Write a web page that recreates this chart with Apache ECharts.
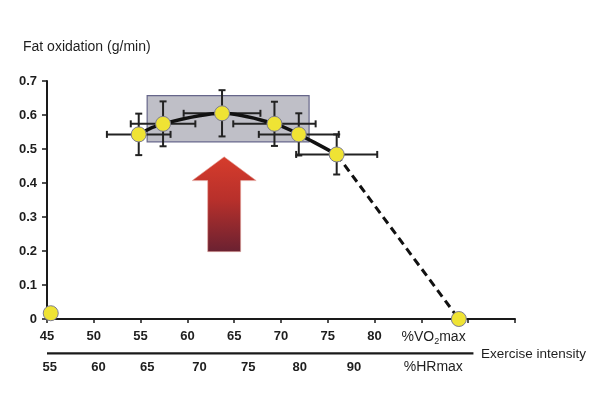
<!DOCTYPE html>
<html><head><meta charset="utf-8">
<script src="https://cdn.jsdelivr.net/npm/echarts@6/dist/echarts.min.js"></script>
<style>html,body{margin:0;padding:0;background:#fff}#c{width:604px;height:395px}</style>
</head><body><div id="c"></div>
<script>
// ---- data ----
const vo2 = [54.8, 57.4, 63.7, 69.3, 71.9, 75.95];
const fat = [0.543, 0.574, 0.605, 0.574, 0.543, 0.484];
const vo2Err = [3.4, 3.45, 4.1, 4.4, 4.27, 4.33];
const fatErr = [0.061, 0.066, 0.068, 0.065, 0.062, 0.059];
const restPoint = [45.4, 0.017];
const endPoint = [89.0, 0];
const vo2TickLabels = ['45', '50', '55', '60', '65', '70', '75', '80'];
const hrLabels = ['55', '60', '65', '70', '75', '80', '90'];
const hrLabelPos = [45.3, 50.5, 55.7, 61.3, 66.5, 72.0, 77.8];
const fatMaxZone = [55.7, 0.657, 73.0, 0.521];

// ---- chart ----
const FONT = '"Liberation Sans", Arial, sans-serif';
const TXT = '#1e1e1e';
const chart = echarts.init(document.getElementById('c'), null, {renderer: 'canvas'});

const curveData = vo2.map((v, i) => [v, fat[i]]);
const errData = vo2.map((v, i) => [v, fat[i], vo2Err[i], fatErr[i]]);
const dashData = [curveData[curveData.length - 1], endPoint];
const pointData = [restPoint].concat(curveData, [endPoint]);

function errRender(params, api) {
  const x = api.value(0), y = api.value(1), ex = api.value(2), ey = api.value(3);
  const c = api.coord([x, y]);
  const l = api.coord([x - ex, y]), r = api.coord([x + ex, y]);
  const t = api.coord([x, y + ey]), b = api.coord([x, y - ey]);
  const cap = 3.5;
  const st = {stroke: '#222', lineWidth: 2};
  const ln = (x1, y1, x2, y2) => ({type: 'line', shape: {x1, y1, x2, y2}, style: st});
  return {type: 'group', children: [
    ln(l[0], c[1], r[0], c[1]),
    ln(l[0], c[1] - cap, l[0], c[1] + cap),
    ln(r[0], c[1] - cap, r[0], c[1] + cap),
    ln(c[0], t[1], c[0], b[1]),
    ln(c[0] - cap, t[1], c[0] + cap, t[1]),
    ln(c[0] - cap, b[1], c[0] + cap, b[1])
  ]};
}

// smooth curve through the measured points (Catmull-Rom rendered as cubic Beziers)
function curveRender(params, api) {
  const p = curveData.map(d => api.coord(d));
  let d = 'M' + p[0][0] + ' ' + p[0][1];
  for (let i = 0; i < p.length - 1; i++) {
    const p0 = p[Math.max(i - 1, 0)], p1 = p[i], p2 = p[i + 1], p3 = p[Math.min(i + 2, p.length - 1)];
    const c1 = [p1[0] + (p2[0] - p0[0]) / 6, p1[1] + (p2[1] - p0[1]) / 6];
    const c2 = [p2[0] - (p3[0] - p1[0]) / 6, p2[1] - (p3[1] - p1[1]) / 6];
    d += ' C' + c1[0] + ' ' + c1[1] + ' ' + c2[0] + ' ' + c2[1] + ' ' + p2[0] + ' ' + p2[1];
  }
  return {type: 'path', shape: {pathData: d}, style: {fill: null, stroke: '#111', lineWidth: 3.5, lineCap: 'round'}};
}

function zoneRender(params, api) {
  const p1 = api.coord([api.value(0), api.value(1)]);
  const p2 = api.coord([api.value(2), api.value(3)]);
  return {type: 'rect', shape: {x: p1[0], y: p1[1], width: p2[0] - p1[0], height: p2[1] - p1[1]},
    style: {fill: '#bfbfc7', stroke: '#66668a', lineWidth: 1.2}};
}

function arrowRender(params, api) {
  const tip = api.coord([63.93, 0.477]);
  const headBase = api.coord([63.93, 0.407])[1];
  const bottom = api.coord([63.93, 0.198])[1];
  const hw = 32, sw = 16.5;
  const cx = tip[0];
  return {type: 'polygon', shape: {points: [
      [cx, tip[1]], [cx + hw, headBase], [cx + sw, headBase], [cx + sw, bottom],
      [cx - sw, bottom], [cx - sw, headBase], [cx - hw, headBase]]},
    style: {fill: new echarts.graphic.LinearGradient(0, 0, 0, 1, [
      {offset: 0, color: '#d63c2c'}, {offset: 0.45, color: '#b8302b'}, {offset: 1, color: '#6a2131'}]),
      stroke: '#e8b0a8', lineWidth: 0.6}};
}

function decorRender(params, api) {
  const a = api.coord([45, -0.101]);
  const b = api.coord([90.56, -0.101]);
  const children = [
    {type: 'line', shape: {x1: a[0], y1: a[1], x2: b[0], y2: b[1]}, style: {stroke: '#1a1a1a', lineWidth: 2.2}}
  ];
  hrLabels.forEach((lab, i) => {
    const p = api.coord([hrLabelPos[i], -0.142]);
    children.push({type: 'text', x: p[0], y: p[1], style: {text: lab, font: 'bold 13px ' + FONT,
      fill: TXT, align: 'center', verticalAlign: 'middle'}});
  });
  const v = api.coord([86.3, -0.053]);
  children.push({type: 'text', x: v[0], y: v[1], style: {
    text: '%VO{s|2}max', font: '14px ' + FONT, fill: TXT, align: 'center', verticalAlign: 'middle',
    rich: {s: {fontSize: 9, fontFamily: FONT, fill: TXT, padding: [8, 0, 0, 0]}}}});
  const h = api.coord([86.27, -0.142]);
  children.push({type: 'text', x: h[0], y: h[1], style: {text: '%HRmax', font: '14px ' + FONT,
    fill: TXT, align: 'center', verticalAlign: 'middle'}});
  return {type: 'group', children};
}

const option = {
  backgroundColor: '#fff',
  animation: false,
  grid: {left: 47, top: 81, right: 89, bottom: 76, containLabel: false},
  xAxis: {
    type: 'value', min: 45, max: 95, interval: 5,
    axisLine: {lineStyle: {color: '#1a1a1a', width: 2}},
    axisTick: {length: 4, lineStyle: {color: '#1a1a1a', width: 1.5}},
    splitLine: {show: false},
    axisLabel: {
      margin: 11, fontFamily: FONT, fontWeight: 'bold', fontSize: 13, color: TXT,
      formatter: v => vo2TickLabels.includes(String(v)) ? String(v) : ''
    }
  },
  yAxis: {
    type: 'value', min: 0, max: 0.7, interval: 0.1,
    axisLine: {show: true, lineStyle: {color: '#1a1a1a', width: 2}},
    axisTick: {show: true, length: 5, lineStyle: {color: '#1a1a1a', width: 1.5}},
    splitLine: {show: false},
    axisLabel: {margin: 10, fontFamily: FONT, fontWeight: 'bold', fontSize: 13, color: TXT}
  },
  graphic: [
    {type: 'text', left: 23, top: 40, style: {text: 'Fat oxidation (g/min)', font: '14px ' + FONT, fill: TXT}},
    {type: 'text', left: 481, top: 347, style: {text: 'Exercise intensity', font: '13.5px ' + FONT, fill: TXT}}
  ],
  series: [
    {type: 'custom', name: 'zone', renderItem: zoneRender, data: [fatMaxZone], z: 1,
      encode: {x: [0, 2], y: [1, 3]}, silent: true},
    {type: 'custom', name: 'arrow', renderItem: arrowRender, data: [[0]], z: 1, silent: true, encode: {x: -1, y: -1}},
    {type: 'custom', name: 'err', renderItem: errRender, data: errData, z: 2, encode: {x: 0, y: 1}},
    {type: 'custom', name: 'curve', renderItem: curveRender, data: [[0]], z: 3, silent: true, encode: {x: -1, y: -1}},
    {type: 'line', name: 'drop', data: dashData, symbol: 'none', z: 3,
      lineStyle: {color: '#111', width: 3, type: [8, 5]}},
    {type: 'scatter', name: 'points', data: pointData, symbolSize: 15, z: 5, clip: false,
      itemStyle: {color: '#efe334', borderColor: '#7c7c90', borderWidth: 1, opacity: 1}},
    {type: 'custom', name: 'decor', renderItem: decorRender, data: [[0]], z: 6, clip: false, silent: true,
      encode: {x: -1, y: -1}}
  ]
};
chart.setOption(option);
</script>
</body></html>
